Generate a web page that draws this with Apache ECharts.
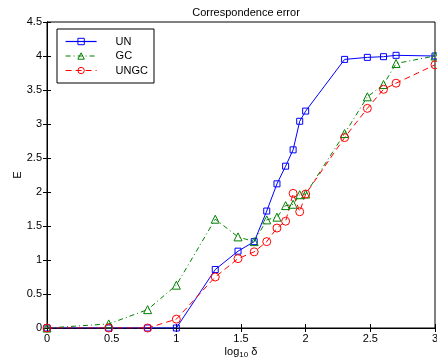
<!DOCTYPE html>
<html>
<head>
<meta charset="utf-8">
<script src="https://cdn.jsdelivr.net/npm/echarts@6/dist/echarts.min.js"></script>
<style>
  html, body { margin: 0; padding: 0; background: #fff; }
  #chart { width: 437px; height: 362px; }
</style>
</head>
<body>
<div id="chart"></div>
<script>
// x = log10(delta)
var xVals = [0, 0.477, 0.778, 1, 1.301, 1.477, 1.602, 1.699, 1.778, 1.845, 1.903, 1.954, 2, 2.301, 2.477, 2.602, 2.699, 3];
var unVals = [0, 0, 0, 0, 0.86, 1.13, 1.27, 1.72, 2.12, 2.38, 2.62, 3.04, 3.19, 3.95, 3.98, 3.99, 4.01, 4.0];
var gcVals = [0, 0.06, 0.27, 0.63, 1.60, 1.34, 1.27, 1.59, 1.63, 1.80, 1.82, 1.96, 1.97, 2.86, 3.40, 3.58, 3.89, 4.0];
var ungcVals = [0, 0, 0, 0.13, 0.75, 1.02, 1.12, 1.27, 1.47, 1.57, 1.98, 1.71, 1.97, 2.80, 3.23, 3.51, 3.60, 3.87];

function pairs(ys) {
    return xVals.map(function (x, i) { return [x, ys[i]]; });
}

var myChart = echarts.init(document.getElementById('chart'));
var font = 'Liberation Sans, Arial, sans-serif';
var tick = { show: true, inside: true, length: 4, lineStyle: { color: '#000' } };
var clear = 'rgba(255,255,255,0)';

myChart.setOption({
    animation: false,
    textStyle: { fontFamily: font },
    title: {
        text: 'Correspondence error',
        left: 241,
        textAlign: 'center',
        top: 2,
        textStyle: { fontSize: 11, fontWeight: 'normal', color: '#000', fontFamily: font }
    },
    grid: {
        left: 47, right: 2, top: 22, bottom: 34,
        outerBoundsMode: 'none',
        show: true, borderColor: '#000', borderWidth: 1
    },
    legend: { //图例
        orient: 'vertical',
        left: 57,
        top: 29,
        padding: [7, 6, 7, 8],
        itemWidth: 31,
        itemHeight: 8,
        itemGap: 3.5,
        borderColor: '#000',
        borderWidth: 1,
        backgroundColor: '#fff',
        itemStyle: { color: clear, borderWidth: 1 },
        lineStyle: { width: 1.2 },
        textStyle: { fontSize: 11, color: '#000', fontFamily: font, padding: [0, 0, 0, 14] },
        data: ['UN', 'GC', 'UNGC']
    },
    xAxis: [
        {
            type: 'value', min: 0, max: 3, interval: 0.5,
            axisLine: { lineStyle: { color: '#000' } },
            axisTick: tick,
            splitLine: { show: false },
            axisLabel: { fontSize: 11, color: '#000', margin: 5, fontFamily: font },
            name: '{a|log}{b|10}{a| δ}',
            nameLocation: 'middle',
            nameGap: 17,
            nameMoveOverlap: false,
            nameTextStyle: {
                rich: {
                    a: { fontSize: 11, color: '#000', fontFamily: font },
                    b: { fontSize: 8, color: '#000', fontFamily: font, padding: [6, 0, 0, 0] }
                }
            }
        },
        {
            type: 'value', min: 0, max: 3, interval: 0.5, position: 'top',
            axisLine: { lineStyle: { color: '#000' } },
            axisTick: tick, axisLabel: { show: false }, splitLine: { show: false }
        }
    ],
    yAxis: [
        {
            type: 'value', min: 0, max: 4.5, interval: 0.5,
            axisLine: { show: true, lineStyle: { color: '#000' } },
            axisTick: tick,
            splitLine: { show: false },
            axisLabel: { fontSize: 11, color: '#000', margin: 5, fontFamily: font },
            name: 'E',
            nameLocation: 'middle',
            nameGap: 24,
            nameMoveOverlap: false,
            nameTextStyle: { fontSize: 11, color: '#000', fontFamily: font }
        },
        {
            type: 'value', min: 0, max: 4.5, interval: 0.5, position: 'right',
            axisLine: { show: true, lineStyle: { color: '#000' } },
            axisTick: tick, axisLabel: { show: false }, splitLine: { show: false }
        }
    ],
    series: [
        {
            name: 'UN', type: 'line', data: pairs(unVals),
            symbol: 'rect', symbolSize: 6, color: '#0000ff',
            lineStyle: { width: 1, color: '#0000ff' },
            itemStyle: { color: clear, borderColor: '#0000ff', borderWidth: 1 }
        },
        {
            name: 'GC', type: 'line', data: pairs(gcVals),
            symbol: 'triangle', symbolSize: 8, color: '#008000',
            lineStyle: { width: 1, color: '#008000', type: [5, 3, 1, 3] },
            itemStyle: { color: clear, borderColor: '#008000', borderWidth: 1 }
        },
        {
            name: 'UNGC', type: 'line', data: pairs(ungcVals),
            symbol: 'circle', symbolSize: 8, color: '#ff0000',
            lineStyle: { width: 1, color: '#ff0000', type: [6, 4] },
            itemStyle: { color: clear, borderColor: '#ff0000', borderWidth: 1 }
        }
    ]
});
</script>
</body>
</html>
